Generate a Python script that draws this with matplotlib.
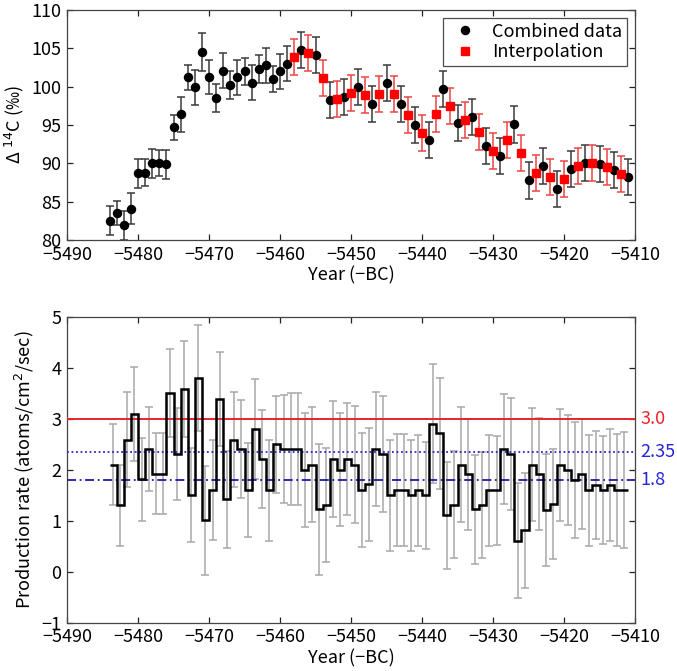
import numpy as np
import matplotlib
matplotlib.use("Agg")
import matplotlib.pyplot as plt
from matplotlib.transforms import blended_transform_factory

plt.rcParams['font.family'] = ['Noto Sans CJK JP', 'DejaVu Sans']
plt.rcParams['axes.unicode_minus'] = True

# Delta 14C, combined measurements (black)
comb_years = [-5484, -5483, -5482, -5481, -5480, -5479, -5478, -5477, -5476, -5475,
              -5474, -5473, -5472, -5471, -5470, -5469, -5468, -5467, -5466, -5465,
              -5464, -5463, -5462, -5461, -5460, -5459,
              -5457, -5455, -5453, -5451, -5449, -5447, -5445, -5443, -5441, -5439,
              -5437, -5435, -5433, -5431, -5429, -5427, -5425, -5423, -5421, -5419,
              -5417, -5415, -5413, -5411]
comb_d14c = [82.5, 83.5, 81.9, 84.1, 88.7, 88.8, 90.0, 90.1, 89.9, 94.7,
             96.4, 101.2, 99.9, 104.5, 101.3, 98.5, 102.1, 100.2, 101.2, 102.0,
             100.5, 102.3, 102.8, 101.0, 102.0, 103.0,
             104.8, 104.1, 98.2, 98.6, 100.0, 97.7, 100.5, 97.7, 95.0, 93.0,
             99.7, 95.2, 96.1, 92.2, 90.9, 95.1, 87.8, 89.7, 86.7, 89.2,
             90.1, 89.9, 89.1, 88.2]
comb_err = [1.9, 1.6, 1.9, 2.0, 1.9, 1.8, 1.9, 1.7, 1.9, 1.65,
            2.3, 1.65, 2.3, 2.5, 2.2, 1.8, 2.3, 1.8, 2.3, 1.8,
            2.3, 1.8, 2.3, 1.7, 2.3, 2.3,
            2.35, 2.35, 2.35, 2.35, 2.35, 2.35, 2.35, 2.35, 2.35, 2.35,
            2.35, 2.35, 2.35, 2.35, 2.35, 2.4, 2.4, 2.35, 2.35, 2.35,
            2.35, 2.35, 2.35, 2.35]

# interpolated years (red)
interp_years = [-5458, -5456, -5454, -5452, -5450, -5448, -5446, -5444, -5442, -5440,
                -5438, -5436, -5434, -5432, -5430, -5428, -5426, -5424, -5422, -5420,
                -5418, -5416, -5414, -5412]
interp_d14c = [103.9, 104.4, 101.1, 98.4, 99.2, 98.9, 99.1, 99.1, 96.3, 94.0,
               96.4, 97.5, 95.7, 94.1, 91.6, 93.0, 91.4, 88.7, 88.2, 88.0,
               89.7, 90.0, 89.5, 88.6]
interp_err = [2.35] * len(interp_years)

# production rate, one value per year step (start of step)
rate_start = list(range(-5484, -5411))
rate = [2.10, 1.30, 2.59, 3.09, 1.81, 2.41, 1.92, 1.92, 3.50, 2.31,
        3.59, 1.50, 3.80, 1.01, 1.60, 3.39, 1.42, 2.59, 2.41, 1.60,
        2.79, 2.21, 1.60, 2.50, 2.41, 2.41, 2.41, 2.00, 2.10, 1.22,
        1.31, 2.21, 2.00, 2.21, 2.10, 1.60, 1.71, 2.41, 2.31, 1.50,
        1.60, 1.60, 1.50, 1.60, 1.50, 2.90, 2.71, 1.11, 1.31, 2.10,
        1.91, 1.22, 1.31, 1.60, 1.60, 2.41, 2.31, 0.61, 0.81, 2.10,
        1.92, 1.21, 1.33, 2.10, 2.00, 1.80, 1.92, 1.60, 1.70, 1.60,
        1.70, 1.60, 1.60]
rate_err = [0.79, 0.80, 0.93, 0.92, 0.82, 0.82, 0.79, 0.79, 0.86, 0.90,
            0.94, 0.92, 1.04, 1.07, 0.98, 0.92, 0.95, 0.93, 0.96, 0.92,
            0.98, 0.96, 0.99, 0.95, 1.06, 1.10, 1.10, 1.12, 1.12, 1.28,
            1.12, 1.13, 1.11, 1.10, 1.14, 1.12, 1.10, 1.12, 1.14, 1.09,
            1.10, 1.10, 1.09, 1.09, 1.05, 1.17, 1.08, 1.05, 1.05, 1.12,
            1.09, 1.06, 1.04, 1.09, 1.07, 1.08, 1.10, 1.12, 1.12, 1.11,
            1.10, 1.09, 1.08, 1.10, 1.08, 1.13, 1.08, 1.09, 1.06, 1.06,
            1.10, 1.10, 1.13]

ref_levels = [3.0, 2.35, 1.8]
ref_labels = ['3.0', '2.35', '1.8']

RED = '#e8242a'
BLUE = '#2626d6'
NAVY = '#1a1aa8'

fig = plt.figure(figsize=(6.77, 6.71), dpi=100)
ax1 = fig.add_axes([0.099, 0.6423, 0.839, 0.3428])
ax2 = fig.add_axes([0.099, 0.072, 0.839, 0.456])

# --- top panel: Delta 14C
ax1.errorbar(comb_years, comb_d14c, yerr=comb_err, fmt='none', ecolor='#3a3a3a',
             elinewidth=1.1, capsize=2.6, capthick=1.1, zorder=2)
ax1.errorbar(interp_years, interp_d14c, yerr=interp_err, fmt='none', ecolor='#ee4444',
             elinewidth=1.1, capsize=2.6, capthick=1.1, zorder=2)
ax1.plot(comb_years, comb_d14c, 'o', color='black', markersize=5.8, label='Combined data', zorder=3)
ax1.plot(interp_years, interp_d14c, 's', color='#ff0000', markersize=5.2, label='Interpolation', zorder=3)

ax1.set_xlim(-5490, -5410)
ax1.set_ylim(80, 110)
ax1.set_xticks(np.arange(-5490, -5409, 10))
ax1.set_yticks(np.arange(80, 111, 5))
ax1.set_xlabel('Year (−BC)', fontsize=13, labelpad=2)
ax1.set_ylabel('Δ $^{14}$C (‰)', fontsize=13, labelpad=4)
leg = ax1.legend(loc='upper right', fontsize=13, frameon=True, fancybox=False,
                 edgecolor='#222222', handletextpad=0.5, borderaxespad=0.45,
                 handlelength=2.0, borderpad=0.25, labelspacing=0.15)
leg.get_frame().set_linewidth(0.9)

# --- bottom panel: production rate
edges = rate_start + [rate_start[-1] + 1]
centers = np.array(rate_start) + 0.5
ax2.errorbar(centers, rate, yerr=rate_err, fmt='none', ecolor='#a8a8a8',
             elinewidth=1.1, capsize=2.6, capthick=1.1, zorder=1)
ax2.stairs(rate, edges, baseline=None, color='black', linewidth=1.8, zorder=4)

trans = blended_transform_factory(ax2.transAxes, ax2.transData)
ax2.axhline(ref_levels[0], color=RED, linewidth=1.4, zorder=3)
ax2.axhline(ref_levels[1], color=BLUE, linewidth=1.3, linestyle=(0, (1, 1.5)), zorder=3)
ax2.axhline(ref_levels[2], color=NAVY, linewidth=1.3, linestyle=(0, (5, 2, 1, 2)), zorder=3)
for lev, lab, col in zip(ref_levels, ref_labels, [RED, BLUE, BLUE]):
    ax2.text(1.01, lev, lab, transform=trans, color=col, fontsize=13,
             ha='left', va='center', clip_on=False)

ax2.set_xlim(-5490, -5410)
ax2.set_ylim(-1, 5)
ax2.set_xticks(np.arange(-5490, -5409, 10))
ax2.set_yticks(np.arange(-1, 6, 1))
ax2.set_xlabel('Year (−BC)', fontsize=13, labelpad=2)
ax2.set_ylabel('Production rate (atoms/cm$^2$/sec)', fontsize=13, labelpad=4)

for ax in (ax1, ax2):
    ax.tick_params(direction='in', length=4, width=0.9, top=True, right=True,
                   labelsize=13, colors='#222222', pad=4)
    ax.tick_params(axis='both', labelcolor='black')
    for s in ax.spines.values():
        s.set_linewidth(0.9)
        s.set_color('#444444')

fig.savefig('out.png', dpi=100)
